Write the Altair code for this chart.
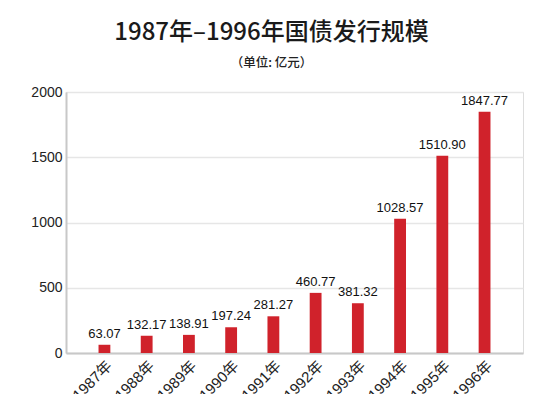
import altair as alt
import pandas as pd

years = ["1987年", "1988年", "1989年", "1990年", "1991年", "1992年", "1993年", "1994年", "1995年", "1996年"]
values = [63.07, 132.17, 138.91, 197.24, 281.27, 460.77, 381.32, 1028.57, 1510.90, 1847.77]
labels = ["63.07", "132.17", "138.91", "197.24", "281.27", "460.77", "381.32", "1028.57", "1510.90", "1847.77"]

df = pd.DataFrame({"year": years, "value": values, "label": labels})

FONT = "Liberation Sans, Noto Sans CJK SC, sans-serif"

base = alt.Chart(df).encode(
    x=alt.X("year:N", sort=years,
            scale=alt.Scale(paddingInner=0.72, paddingOuter=0.77),
            axis=alt.Axis(title=None, labelAngle=-45, labelFontSize=15, labelColor="#222",
                          labelFont=FONT, ticks=False, domainColor="#c8c8c8", domainWidth=2,
                          labelPadding=5, grid=False)),
    y=alt.Y("value:Q", scale=alt.Scale(domain=[0, 2000], nice=False),
            axis=alt.Axis(title=None, values=[0, 500, 1000, 1500, 2000], format="d",
                          labelFontSize=14, labelColor="#222", labelFont=FONT, ticks=False,
                          domainColor="#c8c8c8", domainWidth=2, gridColor="#e6e6e6",
                          gridWidth=1.5, labelPadding=4)),
)

bars = base.mark_bar(color="#d0222b")
text = base.mark_text(baseline="bottom", dy=-4, fontSize=13, font=FONT, color="#111").encode(
    text="label:N")

chart = (bars + text).properties(
    width=457, height=261,
    padding={"left": 58, "top": 84, "right": 19, "bottom": 45},
    autosize=alt.AutoSizeParams(type="none"),
    title=alt.TitleParams(
        "1987年–1996年国债发行规模",
        subtitle="（单位: 亿元）",
        fontSize=24, fontWeight=500, font="Noto Sans CJK SC", color="#1a1a1a",
        subtitleFontSize=12.5, subtitleFont="Noto Sans CJK SC", subtitleFontWeight=500,
        subtitleColor="#222",
        subtitlePadding=12, anchor="middle", frame="group", dx=-23, offset=16),
).configure_view(stroke=None).configure(background="white")

chart.save("out.html", embed_options={"renderer": "svg", "actions": False})
